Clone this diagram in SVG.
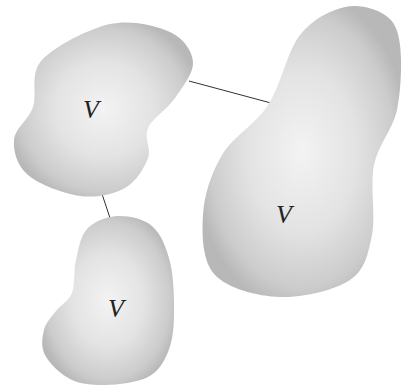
<svg xmlns="http://www.w3.org/2000/svg" width="406" height="385" viewBox="0 0 406 385">
<defs>
<radialGradient id="g" cx="0.5" cy="0.5" r="0.55">
<stop offset="0" stop-color="#f3f3f3"/>
<stop offset="0.5" stop-color="#e3e3e3"/>
<stop offset="0.85" stop-color="#cccccc"/>
<stop offset="1" stop-color="#b8b8b8"/>
</radialGradient>
<style>
.blob{fill:url(#g);stroke:none}
.lbl{font-family:"Liberation Serif","Times New Roman",serif;font-style:italic;font-size:26px;fill:#222;text-anchor:middle}
.edge{stroke:#333;stroke-width:1;fill:none}
</style>
</defs>
<rect width="406" height="385" fill="#fff"/>
<g id="connectors">
<line class="edge" x1="189" y1="81" x2="271" y2="103"/>
<line class="edge" x1="102" y1="194" x2="110" y2="218"/>
</g>
<g id="node1">
<path class="blob" d="M110,24 C131.3,19.3 156.2,25.7 170,32 C183.8,38.3 192.2,51 193,62 C193.8,73 182.5,87 175,98 C167.5,109 152.5,118 148,128 C143.5,138 151.8,148 148,158 C144.2,168 136.3,181.7 125,188 C113.7,194.3 96.2,198.2 80,196 C63.8,193.8 39,184.3 28,175 C17,165.7 13.2,151.3 14,140 C14.8,128.7 28.3,120.3 33,107 C37.7,93.7 29.2,73.8 42,60 C54.8,46.2 88.7,28.7 110,24 Z"/>
<text class="lbl" x="91" y="118">V</text>
</g>
<g id="node2">
<path class="blob" d="M345,7 C359.2,3.7 375.8,8.7 385,15 C394.2,21.3 398,29.2 400,45 C402,60.8 401.3,90 397,110 C392.7,130 378.2,144.2 374,165 C369.8,185.8 376,215.8 372,235 C368,254.2 365.3,269.7 350,280 C334.7,290.3 302.5,297.8 280,297 C257.5,296.2 227.8,288.7 215,275 C202.2,261.3 201.8,235 203,215 C204.2,195 211.2,173.3 222,155 C232.8,136.7 255,125 268,105 C281,85 287.2,51.3 300,35 C312.8,18.7 330.8,10.3 345,7 Z"/>
<text class="lbl" x="284" y="223">V</text>
</g>
<g id="node3">
<path class="blob" d="M117,216 C127.8,215.5 143.2,218.3 152,226 C160.8,233.7 166.3,247.2 170,262 C173.7,276.8 174.3,300 174,315 C173.7,330 172.3,341.7 168,352 C163.7,362.3 158.5,371.5 148,377 C137.5,382.5 118,384.7 105,385 C92,385.3 80,384 70,379 C60,374 49.3,363.2 45,355 C40.7,346.8 42.2,337.3 44,330 C45.8,322.7 51.3,317.2 56,311 C60.7,304.8 68.7,301.5 72,293 C75.3,284.5 73.5,270.7 76,260 C78.5,249.3 80.2,236.3 87,229 C93.8,221.7 106.2,216.5 117,216 Z"/>
<text class="lbl" x="116" y="317">V</text>
</g>
</svg>
